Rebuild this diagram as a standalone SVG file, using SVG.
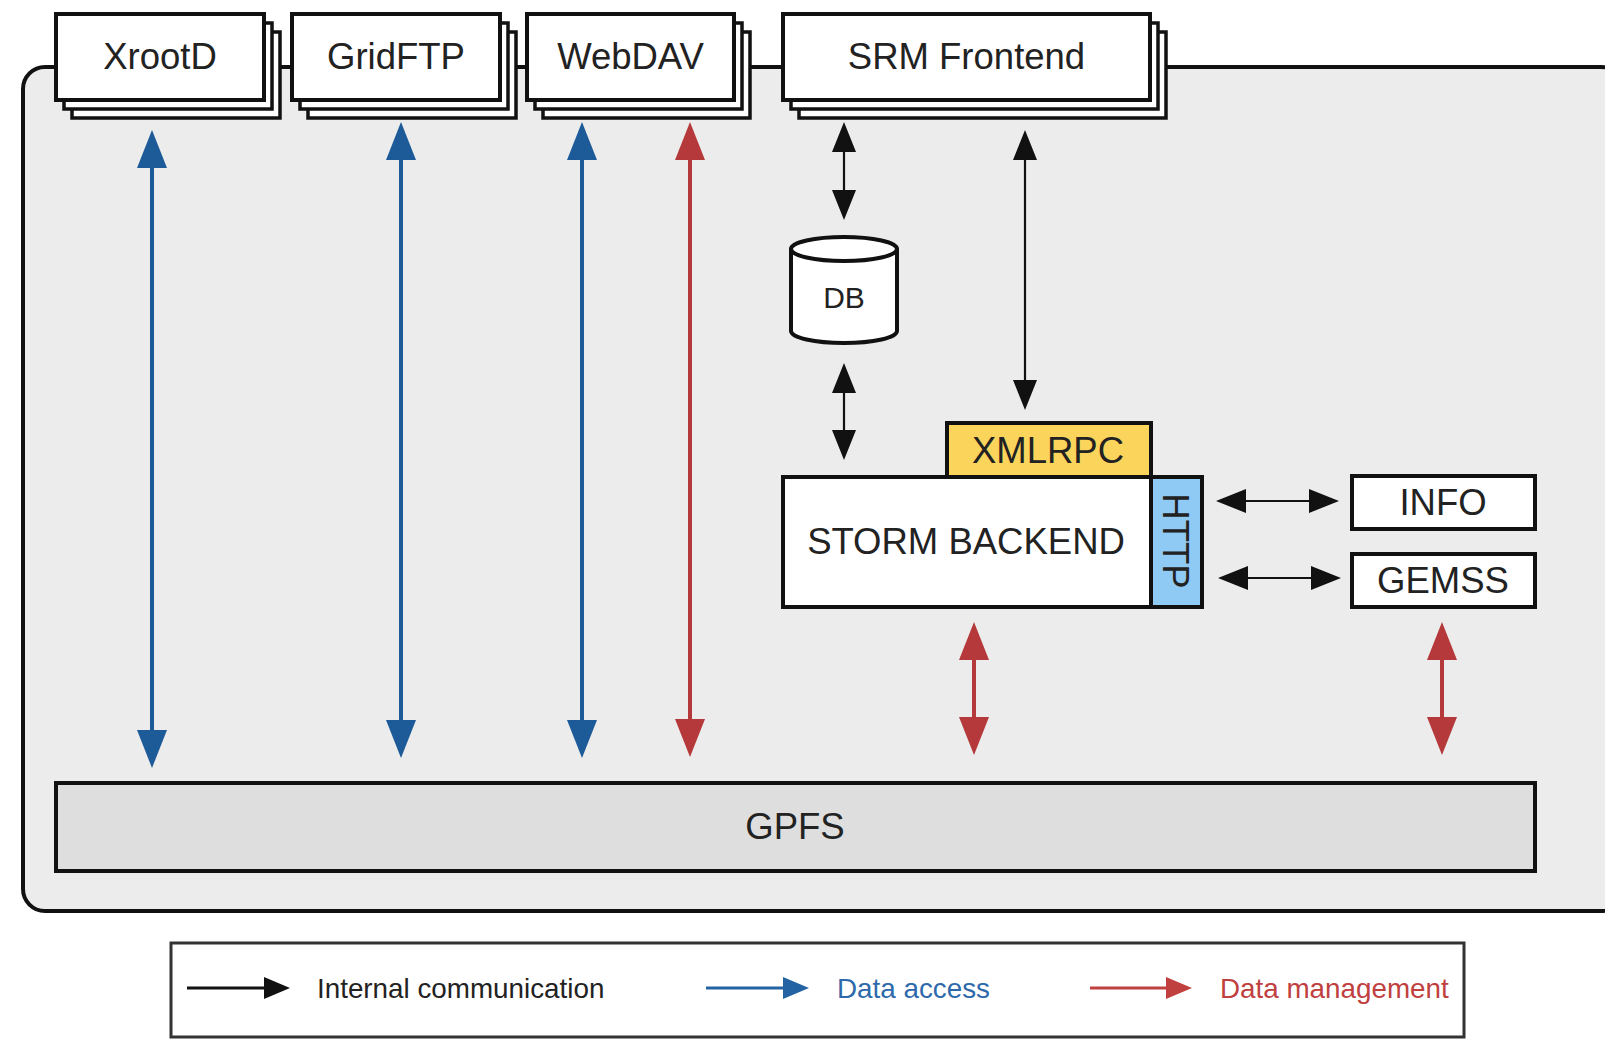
<svg xmlns="http://www.w3.org/2000/svg" width="1605" height="1041" viewBox="0 0 1605 1041">
<defs>
<style>
.t{font-family:"Liberation Sans",Arial,sans-serif;fill:#222;text-anchor:middle}
.big{font-size:36.5px}
.box{fill:#fff;stroke:#111;stroke-width:4}
.lay{fill:#fff;stroke:#111;stroke-width:3.5}
.blue{stroke:#1c5a98;stroke-width:4;fill:none}
.red{stroke:#b5393a;stroke-width:4;fill:none}
.blk{stroke:#111;stroke-width:2.2;fill:none}
.leg{font-size:27.8px;text-anchor:start}
</style>
<marker id="hb" markerUnits="userSpaceOnUse" markerWidth="38" markerHeight="30" refX="22" refY="15" orient="auto-start-reverse"><path d="M0,0 L38,15 L0,30 z" fill="#1c5a98"/></marker>
<marker id="hr" markerUnits="userSpaceOnUse" markerWidth="38" markerHeight="30" refX="22" refY="15" orient="auto-start-reverse"><path d="M0,0 L38,15 L0,30 z" fill="#b5393a"/></marker>
<marker id="hk" markerUnits="userSpaceOnUse" markerWidth="30" markerHeight="24" refX="18" refY="12" orient="auto-start-reverse"><path d="M0,0 L30,12 L0,24 z" fill="#111"/></marker>
<marker id="lk" markerUnits="userSpaceOnUse" markerWidth="26" markerHeight="22" refX="14" refY="11" orient="auto"><path d="M0,0 L26,11 L0,22 z" fill="#111"/></marker>
<marker id="lb" markerUnits="userSpaceOnUse" markerWidth="26" markerHeight="22" refX="14" refY="11" orient="auto"><path d="M0,0 L26,11 L0,22 z" fill="#2463a3"/></marker>
<marker id="lr" markerUnits="userSpaceOnUse" markerWidth="26" markerHeight="22" refX="14" refY="11" orient="auto"><path d="M0,0 L26,11 L0,22 z" fill="#c0403f"/></marker>
</defs>
<rect width="1605" height="1041" fill="#fff"/>
<g id="container"><rect x="23" y="67" width="1600" height="844" rx="22" fill="#ececec" stroke="#111" stroke-width="4"/></g>

<g id="xrootd">
<rect class="lay" x="72" y="32" width="208" height="86"/>
<rect class="lay" x="64" y="23" width="208" height="86"/>
<rect class="box" x="56" y="14" width="208" height="86"/>
<text class="t big" x="160" y="69">XrootD</text>
</g>
<g id="gridftp">
<rect class="lay" x="308" y="32" width="208" height="86"/>
<rect class="lay" x="300" y="23" width="208" height="86"/>
<rect class="box" x="292" y="14" width="208" height="86"/>
<text class="t big" x="396" y="69">GridFTP</text>
</g>
<g id="webdav">
<rect class="lay" x="543" y="32" width="207" height="86"/>
<rect class="lay" x="535" y="23" width="207" height="86"/>
<rect class="box" x="527" y="14" width="207" height="86"/>
<text class="t big" x="630.5" y="69">WebDAV</text>
</g>
<g id="srm">
<rect class="lay" x="799" y="32" width="367" height="86"/>
<rect class="lay" x="791" y="23" width="367" height="86"/>
<rect class="box" x="783" y="14" width="367" height="86"/>
<text class="t big" x="966.5" y="69">SRM Frontend</text>
</g>

<g id="db">
<path d="M791,249 L791,331 A53,12 0 0 0 897,331 L897,249" fill="#fff" stroke="#111" stroke-width="4"/>
<ellipse cx="844" cy="249" rx="53" ry="12" fill="#fff" stroke="#111" stroke-width="4"/>
<text class="t" x="844" y="308" font-size="30">DB</text>
</g>

<g id="xmlrpc">
<rect x="947" y="423" width="204" height="54" fill="#fbd45c" stroke="#111" stroke-width="4"/>
<text class="t big" x="1048" y="463">XMLRPC</text>
</g>
<g id="storm-backend">
<rect class="box" x="783" y="477" width="368" height="130"/>
<text class="t big" x="966" y="554">STORM BACKEND</text>
</g>
<g id="http">
<rect x="1151" y="477" width="51" height="130" fill="#8fcaf5" stroke="#111" stroke-width="4"/>
<text class="t big" x="1176" y="554" transform="rotate(90 1176 541)">HTTP</text>
</g>
<g id="info">
<rect class="box" x="1352" y="476" width="183" height="53"/>
<text class="t big" x="1443" y="514.5">INFO</text>
</g>
<g id="gemss">
<rect class="box" x="1352" y="554" width="183" height="53"/>
<text class="t big" x="1443" y="592.5">GEMSS</text>
</g>
<g id="gpfs">
<rect x="56" y="783" width="1479" height="88" fill="#dedede" stroke="#111" stroke-width="4"/>
<text class="t big" x="795" y="839">GPFS</text>
</g>

<g id="connectors">
<line class="blue" x1="152" y1="146" x2="152" y2="752" marker-start="url(#hb)" marker-end="url(#hb)"/>
<line class="blue" x1="401" y1="138" x2="401" y2="742" marker-start="url(#hb)" marker-end="url(#hb)"/>
<line class="blue" x1="582" y1="138" x2="582" y2="742" marker-start="url(#hb)" marker-end="url(#hb)"/>
<line class="red" x1="690" y1="138" x2="690" y2="741" marker-start="url(#hr)" marker-end="url(#hr)"/>
<line class="red" x1="974" y1="638" x2="974" y2="739" marker-start="url(#hr)" marker-end="url(#hr)"/>
<line class="red" x1="1442" y1="638" x2="1442" y2="739" marker-start="url(#hr)" marker-end="url(#hr)"/>
<line class="blk" x1="844" y1="134" x2="844" y2="208" marker-start="url(#hk)" marker-end="url(#hk)"/>
<line class="blk" x1="1025" y1="142" x2="1025" y2="398" marker-start="url(#hk)" marker-end="url(#hk)"/>
<line class="blk" x1="844" y1="375" x2="844" y2="448" marker-start="url(#hk)" marker-end="url(#hk)"/>
<line class="blk" x1="1228" y1="501" x2="1327" y2="501" marker-start="url(#hk)" marker-end="url(#hk)"/>
<line class="blk" x1="1230" y1="578" x2="1329" y2="578" marker-start="url(#hk)" marker-end="url(#hk)"/>
</g>

<g id="legend">
<rect x="171" y="943" width="1293" height="94" fill="#fff" stroke="#333" stroke-width="3"/>
<line x1="187" y1="988" x2="278" y2="988" stroke="#111" stroke-width="3" marker-end="url(#lk)"/>
<text class="t leg" x="317" y="998">Internal communication</text>
<line x1="706" y1="988" x2="797" y2="988" stroke="#2463a3" stroke-width="3" marker-end="url(#lb)"/>
<text class="t leg" x="837" y="998" style="fill:#2e6aab">Data access</text>
<line x1="1090" y1="988" x2="1180" y2="988" stroke="#c0403f" stroke-width="3" marker-end="url(#lr)"/>
<text class="t leg" x="1220" y="998" style="fill:#c0403f">Data management</text>
</g>
</svg>
